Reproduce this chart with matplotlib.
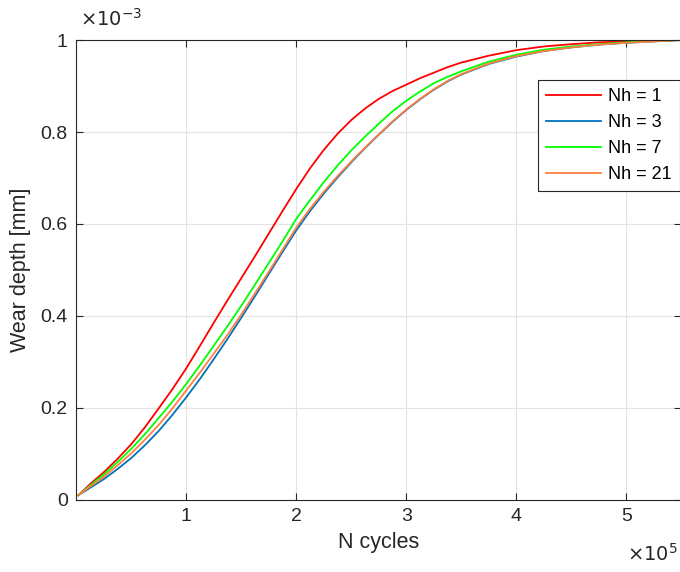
import numpy as np
import matplotlib
matplotlib.use('Agg')
import matplotlib.pyplot as plt
from matplotlib.ticker import FuncFormatter

# cycles (in units of 1e5)
n_cycles_1e5 = [0.02, 0.125, 0.25, 0.375, 0.5, 0.625, 0.75, 0.875, 1.0, 1.125, 1.25,
                1.375, 1.5, 1.625, 1.75, 1.875, 2.0, 2.125, 2.25, 2.375, 2.5, 2.625,
                2.75, 2.875, 3.0, 3.125, 3.25, 3.375, 3.5, 3.75, 4.0, 4.25, 4.5, 4.75,
                5.0, 5.25, 5.5]

# wear depth in units of 1e-3 mm
wear_nh1 = [0.010, 0.034, 0.060, 0.089, 0.121, 0.158, 0.199, 0.241, 0.286, 0.335, 0.385,
            0.434, 0.482, 0.530, 0.579, 0.628, 0.676, 0.721, 0.761, 0.796, 0.826, 0.851,
            0.872, 0.889, 0.903, 0.917, 0.929, 0.941, 0.951, 0.966, 0.978, 0.986, 0.991,
            0.995, 0.997, 0.999, 1.000]
wear_nh3 = [0.010, 0.026, 0.045, 0.067, 0.091, 0.119, 0.150, 0.185, 0.223, 0.263, 0.306,
            0.350, 0.396, 0.443, 0.491, 0.539, 0.586, 0.628, 0.666, 0.701, 0.734, 0.765,
            0.794, 0.822, 0.848, 0.871, 0.892, 0.910, 0.925, 0.948, 0.964, 0.976, 0.984,
            0.990, 0.994, 0.997, 1.000]
wear_nh7 = [0.010, 0.031, 0.055, 0.082, 0.111, 0.143, 0.178, 0.214, 0.252, 0.293, 0.335,
            0.378, 0.422, 0.468, 0.515, 0.562, 0.611, 0.652, 0.691, 0.727, 0.760, 0.790,
            0.818, 0.845, 0.868, 0.888, 0.906, 0.920, 0.932, 0.953, 0.968, 0.979, 0.986,
            0.991, 0.995, 0.998, 1.000]
wear_nh21 = [0.010, 0.029, 0.050, 0.075, 0.101, 0.131, 0.163, 0.199, 0.238, 0.277, 0.318,
             0.359, 0.403, 0.449, 0.496, 0.544, 0.592, 0.633, 0.670, 0.704, 0.736, 0.766,
             0.795, 0.823, 0.849, 0.872, 0.893, 0.911, 0.926, 0.949, 0.965, 0.976, 0.984,
             0.990, 0.994, 0.997, 1.000]

labels = ['Nh = 1', 'Nh = 3', 'Nh = 7', 'Nh = 21']
colors = ['#ff0000', '#0072bd', '#00ff00', '#ff7f3f']

plt.rcParams['font.family'] = ['Liberation Sans', 'DejaVu Sans']
dark = '#262626'

fig = plt.figure(figsize=(6.8, 5.72), dpi=100)
ax = fig.add_axes([0.112, 0.126, 0.89, 0.804])

x = np.array(n_cycles_1e5) * 1e5
for ys, lab, c in zip([wear_nh1, wear_nh3, wear_nh7, wear_nh21], labels, colors):
    ax.plot(x, np.array(ys) * 1e-3, color=c, lw=1.3, label=lab)

ax.set_xlim(0, 5.5e5)
ax.set_ylim(0, 1e-3)
ax.set_xticks([1e5, 2e5, 3e5, 4e5, 5e5])
ax.set_yticks(np.arange(0, 1.01e-3, 0.2e-3))
ax.xaxis.set_major_formatter(FuncFormatter(lambda v, p: '%g' % round(v / 1e5, 3)))
ax.yaxis.set_major_formatter(FuncFormatter(lambda v, p: '%g' % round(v / 1e-3, 3)))

ax.grid(True, color='#e3e3e3', lw=0.8)
ax.set_axisbelow(True)
ax.tick_params(direction='in', length=5, width=0.8, colors=dark, labelsize=14,
               top=True, right=True, pad=6)
for s in ax.spines.values():
    s.set_color(dark)
    s.set_linewidth(0.8)

ax.set_xlabel('N cycles', fontsize=15.5, color=dark, labelpad=5)
ax.set_ylabel('Wear depth [mm]', fontsize=15.5, color=dark, labelpad=7)

fig.text(0.117, 0.955, r'$\times10^{-3}$', fontsize=14, color=dark,
         math_fontfamily='dejavusans')
fig.text(0.922, 0.02, r'$\times10^{5}$', fontsize=14, color=dark,
         math_fontfamily='dejavusans')

leg = ax.legend(loc='upper right', bbox_to_anchor=(0.997, 0.913), fontsize=13,
                frameon=True, fancybox=False, framealpha=1, handlelength=3.0,
                labelspacing=0.5, borderpad=0.45, handletextpad=0.4,
                borderaxespad=0)
leg.get_frame().set_edgecolor(dark)
leg.get_frame().set_linewidth(0.8)

fig.savefig('out.png', dpi=100)
